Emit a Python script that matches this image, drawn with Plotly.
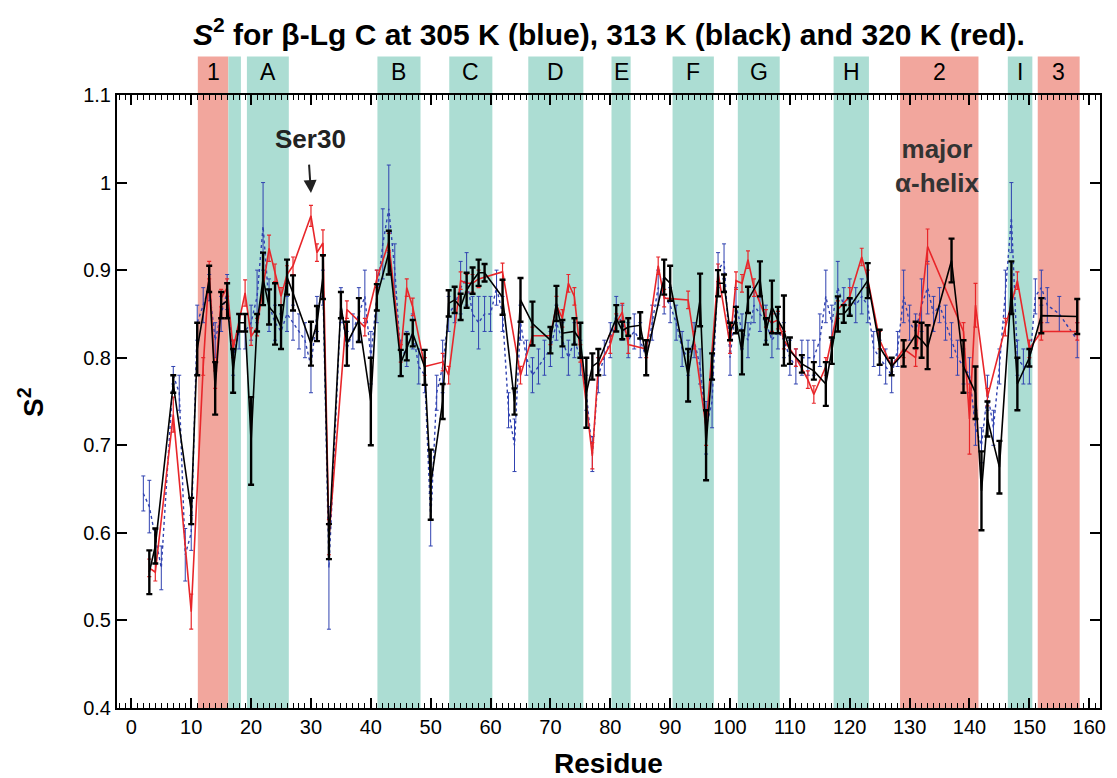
import plotly.graph_objects as go

# ---------------- data ----------------
black_res = [3,4,7,10,11,13,14,15,16,17,18,19,20,21,22,23,24,25,26,27,30,31,32,33,35,36,38,40,41,43,
             45,46,47,49,50,52,53,54,55,56,57,58,59,62,64,65,67,70,71,72,74,75,76,77,78,81,82,83,85,86,
             89,90,93,95,96,97,98,99,100,101,102,103,105,106,107,108,109,110,112,114,116,117,118,119,120,
             123,125,127,129,131,132,133,137,139,141,142,143,145,147,148,150,152,158]
black_s2 = [0.555,0.585,0.77,0.625,0.81,0.89,0.765,0.86,0.865,0.785,0.84,0.84,0.705,0.84,0.89,0.858,0.85,0.835,0.892,0.874,
            0.816,0.839,0.892,0.59,0.86,0.816,0.843,0.75,0.869,0.92,
            0.794,0.812,0.828,0.789,0.655,0.75,0.862,0.866,0.858,0.877,0.888,0.897,0.897,0.869,0.75,0.866,0.839,0.82,0.862,0.828,
            0.83,0.82,0.76,0.79,0.795,0.845,0.831,0.835,0.837,0.80,
            0.892,0.885,0.78,0.866,0.70,0.79,0.885,0.885,0.83,0.843,0.806,0.866,0.89,0.83,0.858,0.843,0.831,0.808,0.793,0.785,
            0.77,0.808,0.85,0.85,0.858,
            0.888,0.812,0.79,0.805,0.826,0.82,0.812,0.911,0.79,0.76,0.648,0.73,0.675,0.88,0.77,0.80,0.848,0.847]
black_err = [0.025,0.02,0.01,0.015,0.03,0.015,0.03,0.015,0.02,0.025,0.01,0.01,0.05,0.01,0.03,0.02,0.035,0.025,0.02,0.02,
             0.025,0.02,0.025,0.02,0.015,0.025,0.025,0.05,0.015,0.025,
             0.015,0.015,0.015,0.02,0.04,0.02,0.015,0.015,0.015,0.02,0.015,0.015,0.01,0.02,0.015,0.025,0.025,0.015,0.02,0.015,
             0.015,0.02,0.04,0.015,0.015,0.015,0.01,0.01,0.015,0.02,
             0.02,0.02,0.03,0.03,0.04,0.015,0.015,0.01,0.01,0.015,0.025,0.015,0.02,0.015,0.03,0.015,0.04,0.015,0.01,0.01,
             0.025,0.015,0.02,0.01,0.01,
             0.02,0.02,0.01,0.015,0.015,0.02,0.025,0.025,0.03,0.03,0.045,0.02,0.03,0.03,0.03,0.01,0.02,0.02]

red_res = [3,4,7,10,12,13,14,15,16,17,19,20,21,23,24,25,26,27,30,31,32,33,36,39,41,43,45,46,47,49,
           52,53,55,56,57,58,62,65,67,70,71,72,73,74,75,77,78,80,81,82,83,86,88,89,93,94,96,98,100,101,
           102,103,104,106,107,108,109,111,113,114,116,118,120,122,123,125,127,129,131,133,139,140,141,143,146,148,150,152,158]
red_s2 = [0.56,0.555,0.735,0.51,0.79,0.90,0.775,0.868,0.88,0.81,0.874,0.824,0.835,0.925,0.897,0.87,0.895,0.905,0.962,0.92,
          0.931,0.595,0.855,0.835,0.89,0.932,0.805,0.88,0.858,0.79,
          0.795,0.78,0.888,0.885,0.885,0.89,0.898,0.78,0.825,0.825,0.86,0.845,0.885,0.87,0.805,0.688,0.79,0.815,0.84,0.852,
          0.815,0.81,0.905,0.868,0.866,0.82,0.72,0.897,0.815,0.888,
          0.885,0.912,0.88,0.845,0.84,0.843,0.82,0.80,0.775,0.758,0.79,0.855,0.87,0.915,0.89,0.82,0.79,0.81,0.80,0.927,
          0.83,0.73,0.86,0.755,0.835,0.888,0.81,0.83,0.83]
red_err = [0.01,0.01,0.02,0.02,0.01,0.01,0.01,0.01,0.01,0.01,0.015,0.01,0.01,0.015,0.01,0.01,0.01,0.01,0.012,0.01,
           0.015,0.02,0.01,0.01,0.01,0.01,0.01,0.01,0.01,0.01,
           0.01,0.01,0.01,0.01,0.01,0.01,0.01,0.01,0.01,0.01,0.01,0.01,0.01,0.01,0.01,0.015,0.01,0.01,0.01,0.01,
           0.01,0.01,0.01,0.01,0.01,0.01,0.02,0.01,0.01,0.01,
           0.01,0.01,0.01,0.01,0.01,0.01,0.01,0.01,0.01,0.01,0.01,0.01,0.01,0.01,0.01,0.01,0.01,0.01,0.01,0.02,
           0.01,0.04,0.025,0.01,0.01,0.01,0.01,0.01,0.01]

blue_res = [2,3,5,7,8,9,10,11,12,13,14,15,16,17,18,19,20,21,22,23,24,25,26,27,28,29,30,31,32,33,
            35,36,37,38,39,40,41,42,43,44,45,46,47,48,49,50,51,52,53,54,55,56,57,58,59,60,61,62,63,64,
            65,66,67,68,69,70,71,72,73,74,75,76,77,78,79,80,81,82,83,84,85,86,87,88,89,90,91,92,93,94,
            95,96,97,98,99,100,101,102,103,104,105,106,107,108,109,110,111,112,113,114,115,116,117,118,119,120,
            121,122,123,124,125,126,127,128,129,130,131,132,133,134,135,136,137,138,139,140,141,142,143,144,145,
            146,147,148,149,150,151,152,153,155,158]
blue_s2 = [0.645,0.63,0.56,0.78,0.76,0.575,0.60,0.84,0.86,0.88,0.82,0.85,0.875,0.80,0.83,0.83,0.84,0.87,0.95,0.86,
           0.84,0.83,0.85,0.84,0.83,0.82,0.79,0.85,0.88,0.56,
           0.86,0.81,0.83,0.85,0.87,0.80,0.87,0.93,0.97,0.90,0.80,0.81,0.83,0.79,0.78,0.615,0.76,0.79,0.85,0.86,
           0.88,0.89,0.85,0.84,0.85,0.85,0.88,0.85,0.74,0.70,
           0.84,0.80,0.78,0.79,0.80,0.81,0.84,0.82,0.80,0.82,0.80,0.76,0.69,0.78,0.80,0.82,0.85,0.84,0.82,0.83,
           0.82,0.80,0.84,0.88,0.87,0.86,0.84,0.81,0.80,0.82,
           0.79,0.72,0.75,0.90,0.91,0.80,0.86,0.83,0.82,0.86,0.85,0.84,0.82,0.83,0.82,0.80,0.79,0.80,0.80,0.80,
           0.82,0.87,0.84,0.88,0.86,0.87,
           0.86,0.87,0.86,0.81,0.80,0.79,0.78,0.81,0.87,0.84,0.83,0.86,0.88,0.85,0.86,0.84,0.82,0.80,0.79,0.78,
           0.72,0.70,0.76,0.72,0.79,
           0.87,0.96,0.80,0.79,0.79,0.87,0.88,0.86,0.85,0.82]
blue_err = [0.02,0.03,0.025,0.01,0.02,0.03,0.02,0.02,0.02,0.015,0.02,0.02,0.02,0.02,0.02,0.02,0.02,0.03,0.05,0.03,
            0.02,0.02,0.02,0.02,0.02,0.02,0.03,0.02,0.02,0.07,
            0.02,0.02,0.02,0.03,0.03,0.03,0.03,0.04,0.05,0.03,0.02,0.02,0.02,0.02,0.02,0.03,0.02,0.03,0.02,0.02,
            0.03,0.03,0.02,0.03,0.02,0.02,0.02,0.02,0.02,0.03,
            0.02,0.02,0.02,0.02,0.02,0.02,0.02,0.02,0.02,0.02,0.02,0.02,0.02,0.02,0.02,0.02,0.02,0.02,0.02,0.02,
            0.02,0.02,0.02,0.02,0.02,0.02,0.02,0.02,0.02,0.02,
            0.02,0.03,0.03,0.02,0.02,0.02,0.02,0.02,0.02,0.02,0.02,0.02,0.02,0.02,0.02,0.02,0.02,0.02,0.02,0.02,
            0.03,0.03,0.02,0.03,0.02,0.02,
            0.02,0.02,0.02,0.02,0.02,0.02,0.02,0.02,0.03,0.02,0.02,0.03,0.03,0.02,0.02,0.02,0.02,0.02,0.02,0.02,
            0.02,0.02,0.02,0.02,0.02,
            0.03,0.04,0.02,0.02,0.02,0.02,0.02,0.02,0.02,0.02]

# secondary-structure bands (residue start, end, label, kind)
band_start = [11.1, 16.2, 19.3, 41.1, 53.1, 66.3, 80.2, 90.4, 101.3, 117.3, 128.4, 146.4, 151.4]
band_end   = [16.2, 18.3, 26.3, 48.3, 60.3, 75.5, 83.4, 97.3, 108.3, 123.2, 141.5, 150.5, 158.4]
band_label = ["1", "", "A", "B", "C", "D", "E", "F", "G", "H", "2", "I", "3"]
band_kind  = ["helix", "strand", "strand", "strand", "strand", "strand", "strand", "strand", "strand",
              "strand", "helix", "strand", "helix"]

x_ticks = list(range(0, 161, 10))
y_ticks = [0.4, 0.5, 0.6, 0.7, 0.8, 0.9, 1.0, 1.1]
y_tick_text = ["0.4", "0.5", "0.6", "0.7", "0.8", "0.9", "1", "1.1"]

# ---------------- figure ----------------
FONT = "Liberation Sans, Arial, sans-serif"
TEAL = "#acddd3"
SALMON = "#f2a69d"
BLUE = "#3042b0"
RED = "#e8262a"

fig = go.Figure()

BAND_TOP = 1.063
for s, e, lab, kind in zip(band_start, band_end, band_label, band_kind):
    fig.add_shape(type="rect", xref="x", yref="paper", x0=s, x1=e, y0=0, y1=BAND_TOP,
                  fillcolor=SALMON if kind == "helix" else TEAL, line_width=0, layer="below")
    if lab:
        fig.add_annotation(x=(s + e) / 2, y=1.0375, xref="x", yref="paper", text=lab,
                           showarrow=False, font=dict(family=FONT, size=23, color="black"),
                           xanchor="center", yanchor="middle")

fig.add_trace(go.Scatter(
    x=blue_res, y=blue_s2, mode="lines",
    line=dict(color=BLUE, width=1.4, dash="dot"),
    error_y=dict(type="data", array=blue_err, color=BLUE, thickness=1, width=2),
    showlegend=False))
fig.add_trace(go.Scatter(
    x=red_res, y=red_s2, mode="lines",
    line=dict(color=RED, width=1.6),
    error_y=dict(type="data", array=red_err, color=RED, thickness=1.2, width=2),
    showlegend=False))
fig.add_trace(go.Scatter(
    x=black_res, y=black_s2, mode="lines",
    line=dict(color="black", width=1.6),
    error_y=dict(type="data", array=black_err, color="black", thickness=2.4, width=3),
    showlegend=False))

# Annotations
fig.add_annotation(x=30, y=0.988, xref="x", yref="y", ax=-2, ay=-30, axref="pixel", ayref="pixel",
                   text="", showarrow=True, arrowhead=2, arrowsize=1.3, arrowwidth=2, arrowcolor="#222")
fig.add_annotation(x=30, y=1.03, xref="x", yref="y", text="<b>Ser30</b>", showarrow=False,
                   font=dict(family=FONT, size=26, color="#222"), xanchor="center", yanchor="bottom")
fig.add_annotation(x=134.5, y=1.058, xref="x", yref="y", text="<b>major<br>α-helix</b>",
                   showarrow=False, font=dict(family=FONT, size=26, color="#333"),
                   xanchor="center", yanchor="top", align="center")

# Title & axis titles
fig.add_annotation(x=0.5, y=1.103, xref="paper", yref="paper",
                   text="<b><i>S</i><sup>2</sup> for β-Lg C at 305 K (blue), 313 K (black) and 320 K (red).</b>",
                   showarrow=False, font=dict(family=FONT, size=30, color="black"),
                   xanchor="center", yanchor="middle")
fig.add_annotation(x=-0.088, y=0.5, xref="paper", yref="paper", text="<b>S<sup>2</sup></b>",
                   textangle=-90, showarrow=False, font=dict(family=FONT, size=28, color="black"),
                   xanchor="center", yanchor="middle")
fig.add_annotation(x=0.5, y=-0.09, xref="paper", yref="paper", text="<b>Residue</b>",
                   showarrow=False, font=dict(family=FONT, size=28, color="black"),
                   xanchor="center", yanchor="middle")

fig.update_xaxes(range=[-2.4, 161.8], tickvals=x_ticks, ticks="inside", ticklen=10, tickwidth=1.5,
                 tickcolor="black", showline=True, linecolor="black", linewidth=2, mirror="allticks",
                 showgrid=False, zeroline=False,
                 tickfont=dict(family=FONT, size=20, color="black"),
                 minor=dict(dtick=1, tick0=0, ticks="inside", ticklen=5, tickwidth=1, tickcolor="black", showgrid=False))
fig.update_yaxes(range=[0.4, 1.1], tickvals=y_ticks, ticktext=y_tick_text, ticks="inside", ticklen=10,
                 tickwidth=1.5, tickcolor="black", showline=True, linecolor="black", linewidth=2,
                 mirror="ticks", showgrid=False, zeroline=False,
                 tickfont=dict(family=FONT, size=20, color="black"))

fig.update_layout(width=1117, height=778, autosize=False,
                  margin=dict(l=117, r=11, t=95, b=70),
                  paper_bgcolor="white", plot_bgcolor="rgba(0,0,0,0)",
                  showlegend=False, font=dict(family=FONT))

fig.write_html("out.html")
